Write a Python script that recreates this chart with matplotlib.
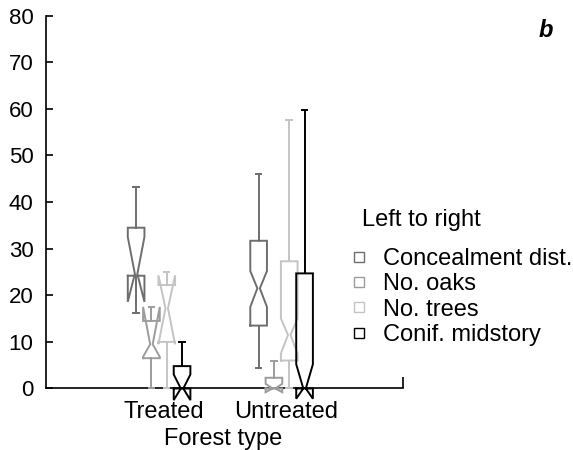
import matplotlib
matplotlib.use("Agg")
import matplotlib.pyplot as plt
from matplotlib.lines import Line2D

plt.rcParams['font.family'] = ['Liberation Sans', 'DejaVu Sans']

# ---- data ----
groups = ["Treated", "Untreated"]
variables = ["Concealment dist.", "No. oaks", "No. trees", "Conif. midstory"]

# per variable: [Treated, Untreated]
whislo = {
    "Concealment dist.": [16.1, 4.3],
    "No. oaks": [0.0, 0.0],
    "No. trees": [0.0, 0.0],
    "Conif. midstory": [0.0, 0.0],
}
q1 = {
    "Concealment dist.": [24.2, 13.5],
    "No. oaks": [6.5, 0.0],
    "No. trees": [10.0, 6.0],
    "Conif. midstory": [0.0, 0.0],
}
cilo = {
    "Concealment dist.": [18.6, 17.5],
    "No. oaks": [6.8, -0.8],
    "No. trees": [9.5, 7.5],
    "Conif. midstory": [-2.5, -2.2],
}
med = {
    "Concealment dist.": [24.6, 21.5],
    "No. oaks": [9.5, 0.0],
    "No. trees": [17.2, 11.5],
    "Conif. midstory": [0.0, 0.0],
}
cihi = {
    "Concealment dist.": [32.5, 25.2],
    "No. oaks": [17.5, 1.0],
    "No. trees": [24.3, 15.0],
    "Conif. midstory": [3.0, 5.2],
}
q3 = {
    "Concealment dist.": [34.5, 31.7],
    "No. oaks": [14.5, 2.3],
    "No. trees": [22.2, 27.3],
    "Conif. midstory": [4.8, 24.7],
}
whishi = {
    "Concealment dist.": [43.3, 46.0],
    "No. oaks": [17.5, 6.0],
    "No. trees": [25.0, 57.6],
    "Conif. midstory": [10.0, 59.8],
}

colors = {
    "Concealment dist.": "#6e6e6e",
    "No. oaks": "#9c9c9c",
    "No. trees": "#c4c4c4",
    "Conif. midstory": "#000000",
}

yticks = [0, 10, 20, 30, 40, 50, 60, 70, 80]

# ---- figure ----
fig = plt.figure(figsize=(5.73, 4.5), dpi=100)
ax = fig.add_axes([0.0803, 0.1367, 0.6230, 0.8284])

box_w = 0.136
notch_frac = 0.15
cap_w = 0.045
spacing = 0.125
shift = -0.04
lw = 1.4

for gi, g in enumerate(groups):
    center = gi + 1
    for vi, v in enumerate(variables):
        p = center + shift + (vi - 1.5) * spacing
        c = colors[v]
        a1, alo, am, ahi, a3 = q1[v][gi], cilo[v][gi], med[v][gi], cihi[v][gi], q3[v][gi]
        xl, xr = p - box_w / 2, p + box_w / 2
        nl, nr = p - box_w * notch_frac / 2, p + box_w * notch_frac / 2
        xs = [xl, xl, nl, xl, xl, xr, xr, nr, xr, xr, xl]
        ys = [a1, alo, am, ahi, a3, a3, ahi, am, alo, a1, a1]
        ax.plot(xs, ys, color=c, lw=lw, clip_on=False, zorder=3 + vi,
                solid_joinstyle='miter')
        # whiskers
        ax.plot([p, p], [a3, whishi[v][gi]], color=c, lw=lw, clip_on=False, zorder=3 + vi)
        ax.plot([p, p], [a1, whislo[v][gi]], color=c, lw=lw, clip_on=False, zorder=3 + vi)
        # caps
        ax.plot([p - cap_w / 2, p + cap_w / 2], [whishi[v][gi]] * 2, color=c, lw=lw,
                clip_on=False, zorder=3 + vi)
        ax.plot([p - cap_w / 2, p + cap_w / 2], [whislo[v][gi]] * 2, color=c, lw=lw,
                clip_on=False, zorder=3 + vi)

ax.set_xlim(0.037, 2.951)
ax.set_ylim(0, 80)
ax.set_yticks(yticks)
ax.set_yticklabels([str(t) for t in yticks])
ax.set_xticks([1, 2])
ax.set_xticklabels(groups)
ax.set_xticks([2.951], minor=True)

for s in ["top", "right"]:
    ax.spines[s].set_visible(False)
for s in ["left", "bottom"]:
    ax.spines[s].set_linewidth(1.2)
    ax.spines[s].set_color("black")

ax.tick_params(axis='y', direction='in', length=5, width=1.2, labelsize=16, pad=9)
ax.tick_params(axis='x', which='major', length=0, labelsize=17, pad=9)
ax.tick_params(axis='x', which='minor', direction='in', length=8, width=1.2)

ax.set_xlabel("Forest type", fontsize=17, labelpad=0)
ax.xaxis.set_label_coords(0.496, -0.105)

fig.text(0.953, 0.933, "b", fontsize=17, fontweight='bold', fontstyle='italic',
         ha='center', va='center')

fig.text(0.631, 0.511, "Left to right", fontsize=17, ha='left', va='center')

handles = [Line2D([], [], linestyle='none', marker='s', markersize=6.5,
                  markerfacecolor='white', markeredgecolor=colors[v],
                  markeredgewidth=1.0) for v in variables]
leg = fig.legend(handles, variables, loc='upper left',
                 bbox_to_anchor=(0.610, 0.449), frameon=False, fontsize=17,
                 handlelength=0.8, handletextpad=0.6, labelspacing=0.14,
                 borderpad=0, borderaxespad=0)

fig.savefig("out.png", dpi=100)
